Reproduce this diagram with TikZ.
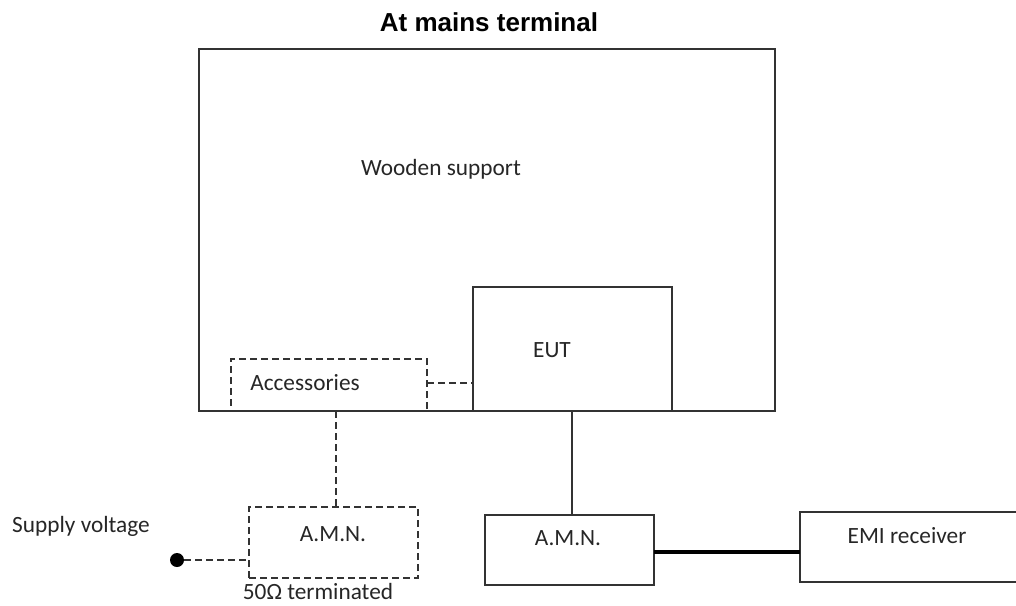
\documentclass[tikz,border=0pt]{standalone}
\usepackage{fontspec}
\setmainfont{Carlito}
\newfontfamily\titlefont{Liberation Sans}
\begin{document}
\begin{tikzpicture}[x=1pt,y=-1pt,
  line col/.style={draw=black!80},
  solidbox/.style={rectangle,line col,line width=1.3pt,inner sep=0pt,outer sep=0pt},
  dashbox/.style={solidbox,dash pattern=on 7pt off 4pt},
  dashline/.style={line col,line width=1.3pt,dash pattern=on 7pt off 4pt},
  wire/.style={line col,line width=1.3pt},
  thickwire/.style={draw=black,line width=3.5pt},
  lbl/.style={inner sep=0pt,anchor=base,font=\fontsize{23.3}{28}\selectfont,text=black!85},
  ttl/.style={inner sep=0pt,anchor=base,font=\titlefont\bfseries\fontsize{26}{31}\selectfont,text=black}]
\useasboundingbox (0,0) rectangle (1016,605);
% boxes
\node[solidbox,minimum width=576pt,minimum height=362pt] (wood) at (487,230) {};
\node[solidbox,minimum width=199pt,minimum height=124pt] (eut) at (572.5,349) {};
\node[dashbox,minimum width=196pt,minimum height=52pt] (acc) at (329,385) {};
\node[dashbox,minimum width=169pt,minimum height=71pt] (amnL) at (333.5,542.5) {};
\node[solidbox,minimum width=169pt,minimum height=70pt] (amnR) at (569.5,550) {};
\node[solidbox,minimum width=225pt,minimum height=70pt] (emi) at (912.5,547) {};
\node[circle,fill=black,inner sep=0pt,minimum size=14pt] (dot) at (177,560) {};
% texts
\node[ttl] (title) at (489,31) {At mains terminal};
\node[lbl] (woodt) at (441,175) {Wooden support};
\node[lbl] (eutt) at (552,357) {EUT};
\node[lbl] (acct) at (305,390) {Accessories};
\node[lbl] (amnLt) at (333,541) {A.M.N.};
\node[lbl] (amnRt) at (568,545) {A.M.N.};
\node[lbl] (emit) at (907,543) {EMI receiver};
\node[lbl] (supt) at (81,532) {Supply voltage};
\node[lbl] (termt) at (318,599) {50Ω terminated};
% connectors
\draw[dashline] ([yshift=2pt]acc.east) -- ([yshift=2pt]acc.east -| eut.west);
\draw[dashline] ([xshift=7pt]acc.south) -- ([xshift=7pt]acc.south |- amnL.north);
\draw[dashline] (dot) -- (dot -| amnL.west);
\draw[wire] ([xshift=-0.5pt]eut.south) -- ([xshift=-0.5pt]eut.south |- amnR.north);
\draw[thickwire] ([yshift=-2pt]amnR.east) -- ([yshift=-2pt]amnR.east -| emi.west);
\end{tikzpicture}
\end{document}
